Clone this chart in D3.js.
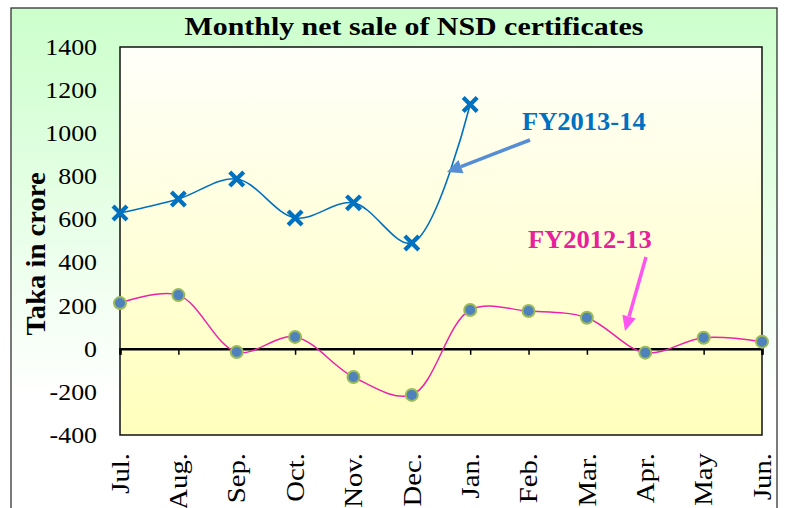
<!DOCTYPE html>
<html>
<head>
<meta charset="UTF-8">
<title>Monthly net sale of NSD certificates</title>
<script src="https://d3js.org/d3.v7.min.js"></script>
<style>
  body { margin: 0; background: #fff; }
  text { font-family: "Liberation Serif", "Times New Roman", serif; }
</style>
</head>
<body>
<svg id="chart" width="785" height="508"></svg>
<script>
// data (Taka in crore)
const months = ["Jul.", "Aug.", "Sep.", "Oct.", "Nov.", "Dec.", "Jan.", "Feb.", "Mar.", "Apr.", "May", "Jun."];
const fy1314 = [630, 695, 788, 607, 677, 491, 1133];
const fy1213 = [212, 249, -15, 55, -131, -214, 180, 175, 144, -18, 51, 33];
const yTicks = [-400, -200, 0, 200, 400, 600, 800, 1000, 1200, 1400];

const plot = { left: 120, right: 762, top: 47, bottom: 435 };

const svg = d3.select("#chart");
const defs = svg.append("defs");

const outerGrad = defs.append("linearGradient").attr("id", "outerGrad")
  .attr("x1", 0).attr("y1", 0).attr("x2", 0).attr("y2", 1);
outerGrad.append("stop").attr("offset", "0%").attr("stop-color", "#ccffcc");
outerGrad.append("stop").attr("offset", "72%").attr("stop-color", "#ffffff");

const plotGrad = defs.append("linearGradient").attr("id", "plotGrad")
  .attr("x1", 0).attr("y1", 0).attr("x2", 0).attr("y2", 1);
plotGrad.append("stop").attr("offset", "0%").attr("stop-color", "#fffffa");
plotGrad.append("stop").attr("offset", "100%").attr("stop-color", "#ffffbc");

// outer frame
svg.append("rect")
  .attr("x", 11).attr("y", 8).attr("width", 766).attr("height", 540)
  .attr("fill", "url(#outerGrad)").attr("stroke", "#222").attr("stroke-width", 1.2);

const x = d3.scalePoint().domain(months).range([plot.left, plot.right]);
const y = d3.scaleLinear().domain([-400, 1400]).range([plot.bottom, plot.top]);

// plot area
svg.append("rect")
  .attr("x", plot.left).attr("y", plot.top)
  .attr("width", plot.right - plot.left).attr("height", plot.bottom - plot.top)
  .attr("fill", "url(#plotGrad)").attr("stroke", "#111").attr("stroke-width", 1.5);

// title
svg.append("text")
  .attr("transform", "translate(414,35) scale(1.15,1)")
  .attr("text-anchor", "middle")
  .attr("font-size", 26).attr("font-weight", "bold")
  .text("Monthly net sale of NSD certificates");

// y axis labels
svg.selectAll(".ytick")
  .data(yTicks)
  .enter().append("text")
  .attr("class", "ytick")
  .attr("transform", d => `translate(97,${y(d)}) scale(1.15,1)`)
  .attr("dy", "0.35em")
  .attr("text-anchor", "end")
  .attr("font-size", 22.5)
  .text(d => d);

svg.append("text")
  .attr("transform", "translate(45,254) rotate(-90) scale(1.06,1)")
  .attr("text-anchor", "middle")
  .attr("font-size", 27).attr("font-weight", "bold")
  .text("Taka in crore");

// zero axis with category ticks
const axis = svg.append("g").attr("transform", `translate(0,${y(0)})`)
  .call(d3.axisBottom(x).tickSize(6).tickFormat(""));
axis.select(".domain").attr("stroke", "#000").attr("stroke-width", 2.5);
axis.selectAll(".tick line").attr("stroke", "#000").attr("stroke-width", 1.5);

// month labels
svg.selectAll(".xlab")
  .data(months)
  .enter().append("text")
  .attr("class", "xlab")
  .attr("transform", d => `translate(${x(d)},453) rotate(-90) scale(1.15,1)`)
  .attr("dy", "0.35em")
  .attr("text-anchor", "end")
  .attr("font-size", 25)
  .text(d => d);

// lines
const line = d3.line()
  .x((d, i) => x(months[i]))
  .y(d => y(d))
  .curve(d3.curveCatmullRom.alpha(0.5));

svg.append("path").datum(fy1213)
  .attr("d", line).attr("fill", "none")
  .attr("stroke", "#ee22aa").attr("stroke-width", 1.5);

svg.append("path").datum(fy1314)
  .attr("d", line).attr("fill", "none")
  .attr("stroke", "#0070c0").attr("stroke-width", 1.6);

// markers
svg.selectAll(".dot")
  .data(fy1213)
  .enter().append("circle")
  .attr("class", "dot")
  .attr("cx", (d, i) => x(months[i]))
  .attr("cy", d => y(d))
  .attr("r", 6)
  .attr("fill", "#4f81bd").attr("stroke", "#9bbb59").attr("stroke-width", 2);

const s = 5.5;
svg.selectAll(".cross")
  .data(fy1314)
  .enter().append("path")
  .attr("class", "cross")
  .attr("transform", (d, i) => `translate(${x(months[i])},${y(d)})`)
  .attr("d", `M${-s},${-s}L${s},${s}M${-s},${s}L${s},${-s}`)
  .attr("stroke", "#0070c0").attr("stroke-width", 4.2).attr("stroke-linecap", "square");

// series labels and arrows
function arrow(x1, y1, x2, y2, color) {
  const ang = Math.atan2(y2 - y1, x2 - x1);
  const len = 15, half = 7;
  const bx = x2 - len * Math.cos(ang), by = y2 - len * Math.sin(ang);
  svg.append("line")
    .attr("x1", x1).attr("y1", y1).attr("x2", bx).attr("y2", by)
    .attr("stroke", color).attr("stroke-width", 3.5);
  const px = -Math.sin(ang) * half, py = Math.cos(ang) * half;
  svg.append("path")
    .attr("d", `M${x2},${y2}L${bx + px},${by + py}L${bx - px},${by - py}Z`)
    .attr("fill", color);
}

arrow(530, 140, 447, 172, "#558ed5");
arrow(646, 257, 625, 331, "#ff55f0");

svg.append("text")
  .attr("transform", "translate(522,130) scale(1.04,1)")
  .attr("font-size", 25.5).attr("font-weight", "bold")
  .attr("fill", "#0070c0")
  .text("FY2013-14");

svg.append("text")
  .attr("transform", "translate(528,248) scale(1.04,1)")
  .attr("font-size", 25.5).attr("font-weight", "bold")
  .attr("fill", "#e8209c")
  .text("FY2012-13");
</script>
</body>
</html>
